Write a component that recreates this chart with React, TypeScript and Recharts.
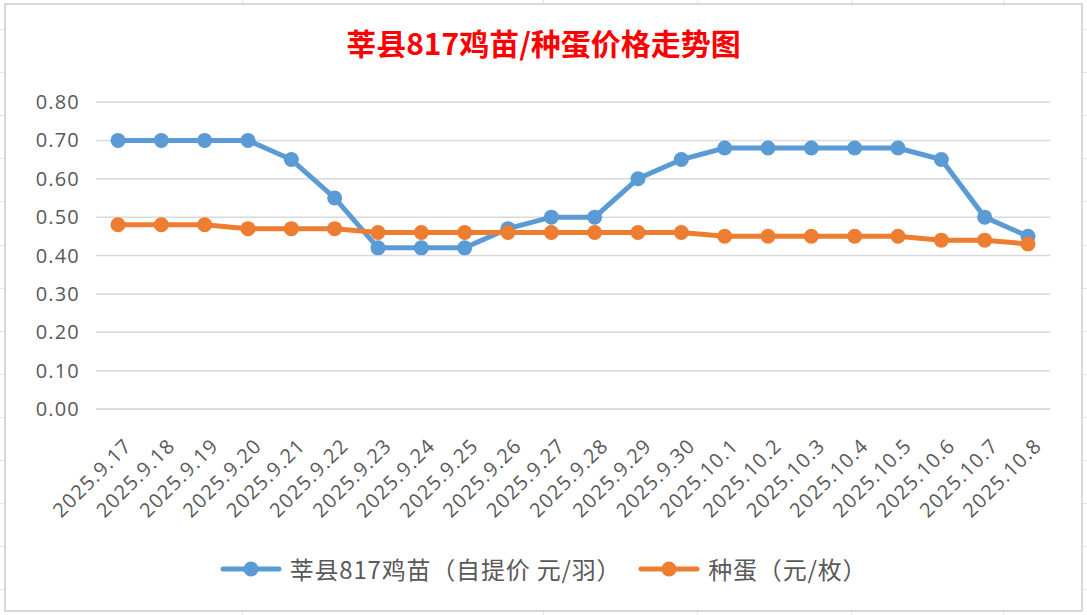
import { LineChart, Line, XAxis, YAxis, CartesianGrid, Legend } from 'recharts';

const dates = [
  '2025.9.17', '2025.9.18', '2025.9.19', '2025.9.20', '2025.9.21', '2025.9.22',
  '2025.9.23', '2025.9.24', '2025.9.25', '2025.9.26', '2025.9.27', '2025.9.28',
  '2025.9.29', '2025.9.30', '2025.10.1', '2025.10.2', '2025.10.3', '2025.10.4',
  '2025.10.5', '2025.10.6', '2025.10.7', '2025.10.8',
];
const chickPrice = [
  0.7, 0.7, 0.7, 0.7, 0.65, 0.55, 0.42, 0.42, 0.42, 0.47, 0.5, 0.5,
  0.6, 0.65, 0.68, 0.68, 0.68, 0.68, 0.68, 0.65, 0.5, 0.45,
];
const eggPrice = [
  0.48, 0.48, 0.48, 0.47, 0.47, 0.47, 0.46, 0.46, 0.46, 0.46, 0.46, 0.46,
  0.46, 0.46, 0.45, 0.45, 0.45, 0.45, 0.45, 0.44, 0.44, 0.43,
];
const yTicks = [0, 0.1, 0.2, 0.3, 0.4, 0.5, 0.6, 0.7, 0.8];

const CHICK = '莘县817鸡苗（自提价 元/羽）';
const EGG = '种蛋（元/枚）';
const seriesOrder = [CHICK, EGG];

const data = dates.map((d, i) => ({ name: d, [CHICK]: chickPrice[i], [EGG]: eggPrice[i] }));

const tickFont = { fontFamily: '"Open Sans", sans-serif', fontSize: 20, letterSpacing: 1.2, fill: '#595959' };

const XTick = ({ x, y, payload }: any) => (
  <g transform={`translate(${x + 15},${y + 30})`}>
    <text transform="rotate(-45)" textAnchor="end" {...tickFont}>
      {payload.value}
    </text>
  </g>
);

const LegendContent = ({ payload }: any) => {
  const items = [...(payload || [])].sort((a: any, b: any) => seriesOrder.indexOf(a.value) - seriesOrder.indexOf(b.value));
  return (
    <div style={{ display: 'flex', justifyContent: 'center', alignItems: 'center' }}>
      {items.map((p: any, i: number) => (
        <div key={p.value} style={{ display: 'flex', alignItems: 'center', marginLeft: i ? 17 : 0 }}>
          <svg width={62} height={16} style={{ marginRight: 8 }}>
            <line x1={3} y1={8} x2={59} y2={8} stroke={p.color} strokeWidth={5} strokeLinecap="round" />
            <circle cx={31} cy={8} r={7.5} fill={p.color} />
          </svg>
          <span style={{ fontFamily: '"Noto Sans CJK SC", sans-serif', fontSize: 24, letterSpacing: 0.8, color: '#595959' }}>{p.value}</span>
        </div>
      ))}
    </div>
  );
};

const hLines = Array.from({ length: 14 }, (_, k) => 29 + 43.1 * k);
const vLines = [242, 543, 697, 851, 1003];

export default function App() {
  return (
    <div style={{ position: 'absolute', left: 0, top: 0, width: 1087, height: 615, background: '#fff', overflow: 'hidden' }}>
      {hLines.map((y) => (
        <div key={'h' + y} style={{ position: 'absolute', left: 0, top: y, width: 1087, height: 1, background: '#e3e3e3' }} />
      ))}
      {vLines.map((x) => (
        <div key={'v' + x} style={{ position: 'absolute', left: x, top: 0, width: 1, height: 615, background: '#e3e3e3' }} />
      ))}
      <div style={{ position: 'absolute', left: 4, top: 3, width: 1079, height: 609, boxSizing: 'border-box', border: '2px solid #d9d9d9', background: '#fff' }} />
      <div style={{ position: 'absolute', left: 0, top: 22, width: 1087, textAlign: 'center', color: '#ff0000', fontWeight: 700, fontSize: 30, fontFamily: '"Noto Sans CJK SC", sans-serif', lineHeight: '40px' }}>
        莘县817鸡苗/种蛋价格走势图
      </div>
      <div style={{ position: 'absolute', left: 0, top: 0 }}>
        <LineChart width={1087} height={615} data={data} margin={{ top: 102, right: 37, left: 16, bottom: 106 }}>
          <CartesianGrid vertical={false} stroke="#d9d9d9" strokeWidth={1.5} />
          <XAxis
            dataKey="name"
            interval={0}
            height={100}
            padding={{ left: 22, right: 22 }}
            tickLine={false}
            axisLine={{ stroke: '#d9d9d9', strokeWidth: 1.5 }}
            tick={<XTick />}
          />
          <YAxis
            domain={[0, 0.8]}
            ticks={yTicks}
            width={80}
            tickMargin={10}
            tickLine={false}
            axisLine={false}
            tickFormatter={(v: number) => v.toFixed(2)}
            tick={tickFont}
          />
          <Legend layout="horizontal" verticalAlign="middle" align="center" content={<LegendContent />} wrapperStyle={{ top: 551, left: 0, width: 1087 }} />
          <Line type="linear" dataKey={CHICK} stroke="#5b9bd5" strokeWidth={5} dot={{ r: 7.5, fill: '#5b9bd5', stroke: 'none' }} activeDot={false} isAnimationActive={false} />
          <Line type="linear" dataKey={EGG} stroke="#ed7d31" strokeWidth={5} dot={{ r: 7.5, fill: '#ed7d31', stroke: 'none' }} activeDot={false} isAnimationActive={false} />
        </LineChart>
      </div>
    </div>
  );
}
